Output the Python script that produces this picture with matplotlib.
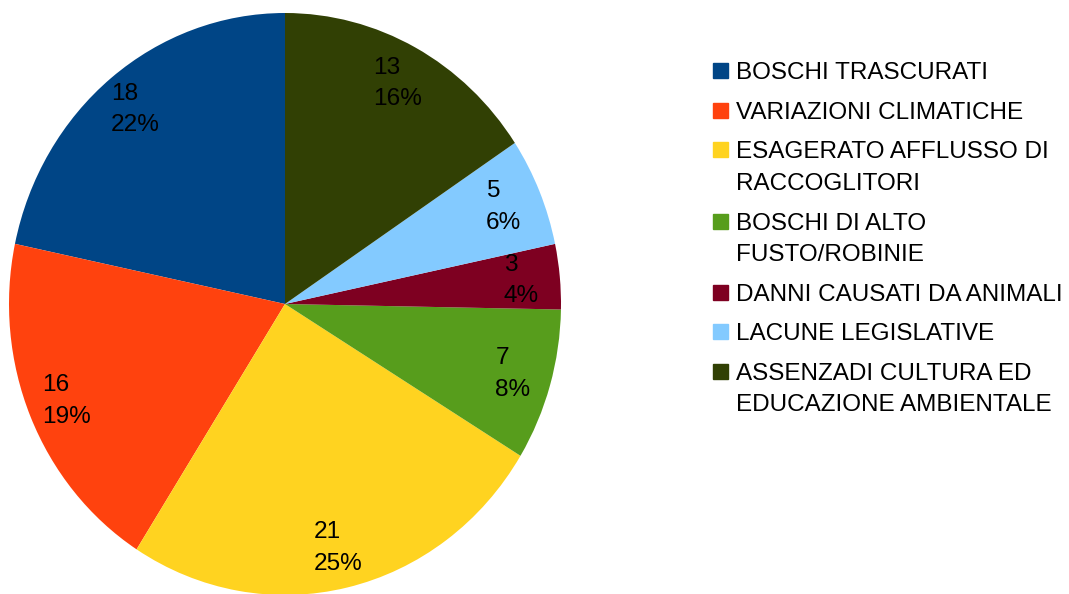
import matplotlib.pyplot as plt
from matplotlib.patches import Rectangle

plt.rcParams['font.family'] = ['Liberation Sans', 'DejaVu Sans']

# Dati del grafico
categorie = ['BOSCHI TRASCURATI',
             'VARIAZIONI CLIMATICHE',
             'ESAGERATO AFFLUSSO DI\nRACCOGLITORI',
             'BOSCHI DI ALTO\nFUSTO/ROBINIE',
             'DANNI CAUSATI DA ANIMALI',
             'LACUNE LEGISLATIVE',
             'ASSENZADI CULTURA ED\nEDUCAZIONE AMBIENTALE']
valori = [18, 16, 21, 7, 3, 5, 13]
colori = ['#004586', '#ff420e', '#ffd320', '#579d1c', '#7e0021', '#83caff', '#314004']

W, H = 1069, 594
fig = plt.figure(figsize=(W / 100, H / 100), dpi=100)
ax = fig.add_axes([9 / W, -1 / H, 552 / W, 582 / H])

totale = sum(valori)


def etichetta(pct):
    v = round(pct * totale / 100)
    return f'{v}\n{pct:.0f}%'


# Torta
wedges, texts, autotexts = ax.pie(valori, colors=colori, startangle=90, counterclock=True,
                                  autopct=etichetta, pctdistance=0.86,
                                  textprops=dict(fontsize=17.6, color='black',
                                                 multialignment='left', linespacing=1.55))
ax.set_aspect('auto')
ax.set_xlim(-1, 1)
ax.set_ylim(-1, 1)

# Legenda costruita a mano (quadratino allineato alla prima riga)
x_q, x_t = 713, 736
y = 79.3
for nome, col in zip(categorie, colori):
    fig.add_artist(Rectangle((x_q / W, 1 - (y - 1) / H), 15 / W, 15 / H,
                             transform=fig.transFigure, color=col))
    for riga in nome.split('\n'):
        fig.text(x_t / W, 1 - y / H, riga, fontsize=17.5, va='baseline')
        y += 31.7
    y += 39.5 - 31.7

fig.savefig('out.png', dpi=100)
